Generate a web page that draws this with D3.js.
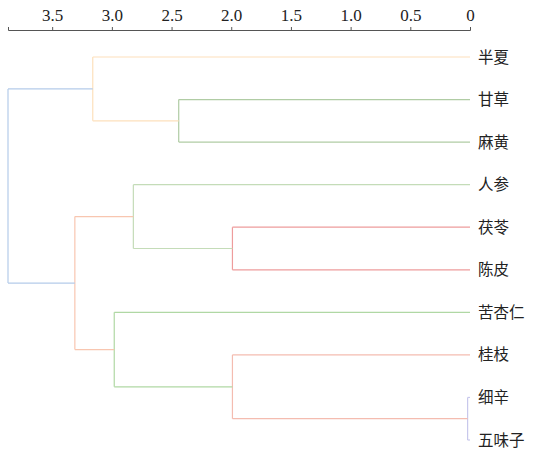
<!DOCTYPE html>
<html>
<head>
<meta charset="utf-8">
<script src="https://cdn.jsdelivr.net/npm/d3@7"></script>
<style>
body { margin: 0; background: #fff; }
.axis text { font-family: "Liberation Serif", "DejaVu Serif", serif; }
</style>
</head>
<body>
<svg id="chart"></svg>
<script>
// leaves, top to bottom
var leaves = ["半夏", "甘草", "麻黄", "人参", "茯苓", "陈皮", "苦杏仁", "桂枝", "细辛", "五味子"];

// merges: [left, right, height], index >= 10 means an earlier merge
var mergeLeft = [8, 4, 7, 1, 3, 6, 0, 14, 16];
var mergeRight = [9, 5, 10, 2, 11, 12, 13, 15, 17];
var mergeHeight = [0.02, 1.99, 1.99, 2.44, 2.82, 2.98, 3.16, 3.31, 3.87];
var mergeColor = ["#c8c8ec", "#ee9c9c", "#f4bcb0", "#b0cca4", "#c4dcb8", "#b0d8a4", "#fde0bc", "#f8c6b0", "#b4cbea"];

var ticks = [3.5, 3.0, 2.5, 2.0, 1.5, 1.0, 0.5, 0];

var width = 535, height = 451;

var svg = d3.select("#chart")
    .attr("width", width)
    .attr("height", height);

//Scales
var x = d3.scaleLinear([3.87, 0], [8, 470]);
var y = d3.scalePoint(leaves, [57, 440]);

//Build nodes
var nodes = leaves.map(function (d) {
    return { name: d, h: 0, y: y(d) };
});
mergeLeft.forEach(function (l, i) {
    var a = nodes[l], b = nodes[mergeRight[i]];
    nodes.push({ h: mergeHeight[i], y: (a.y + b.y) / 2, children: [a, b], color: mergeColor[i] });
});

//Draw links
var g = svg.append("g").attr("fill", "none").attr("stroke-width", 1.2);
nodes.forEach(function (n) {
    if (!n.children) return;
    g.append("line")
        .attr("x1", x(n.h)).attr("x2", x(n.h))
        .attr("y1", n.children[0].y).attr("y2", n.children[1].y)
        .attr("stroke", n.color);
    n.children.forEach(function (c) {
        g.append("line")
            .attr("x1", x(n.h)).attr("x2", x(c.h))
            .attr("y1", c.y).attr("y2", c.y)
            .attr("stroke", n.color);
    });
});

//Leaf labels
svg.append("g").selectAll("text")
    .data(leaves)
    .enter()
    .append("text")
    .attr("x", 478)
    .attr("y", function (d) { return y(d); })
    .attr("dy", "0.36em")
    .style("font-family", "'Noto Sans CJK SC'")
    .style("font-size", "15.5px")
    .attr("fill", "#222")
    .text(function (d) { return d; });

//Top axis
var xAxis = d3.axisTop(x)
    .tickValues(ticks)
    .tickSize(3)
    .tickFormat(function (d) { return d === 0 ? "0" : d3.format(".1f")(d); });

var ax = svg.append("g")
    .attr("class", "axis")
    .attr("transform", "translate(0,30)")
    .call(xAxis)
    .attr("font-family", "Liberation Serif")
    .attr("font-size", 17);
ax.select(".domain").attr("stroke", "#555");
ax.selectAll(".tick line").attr("stroke", "#555");
ax.selectAll(".tick text")
    .attr("fill", "#222")
    .attr("dy", "-0.15em");
</script>
</body>
</html>
